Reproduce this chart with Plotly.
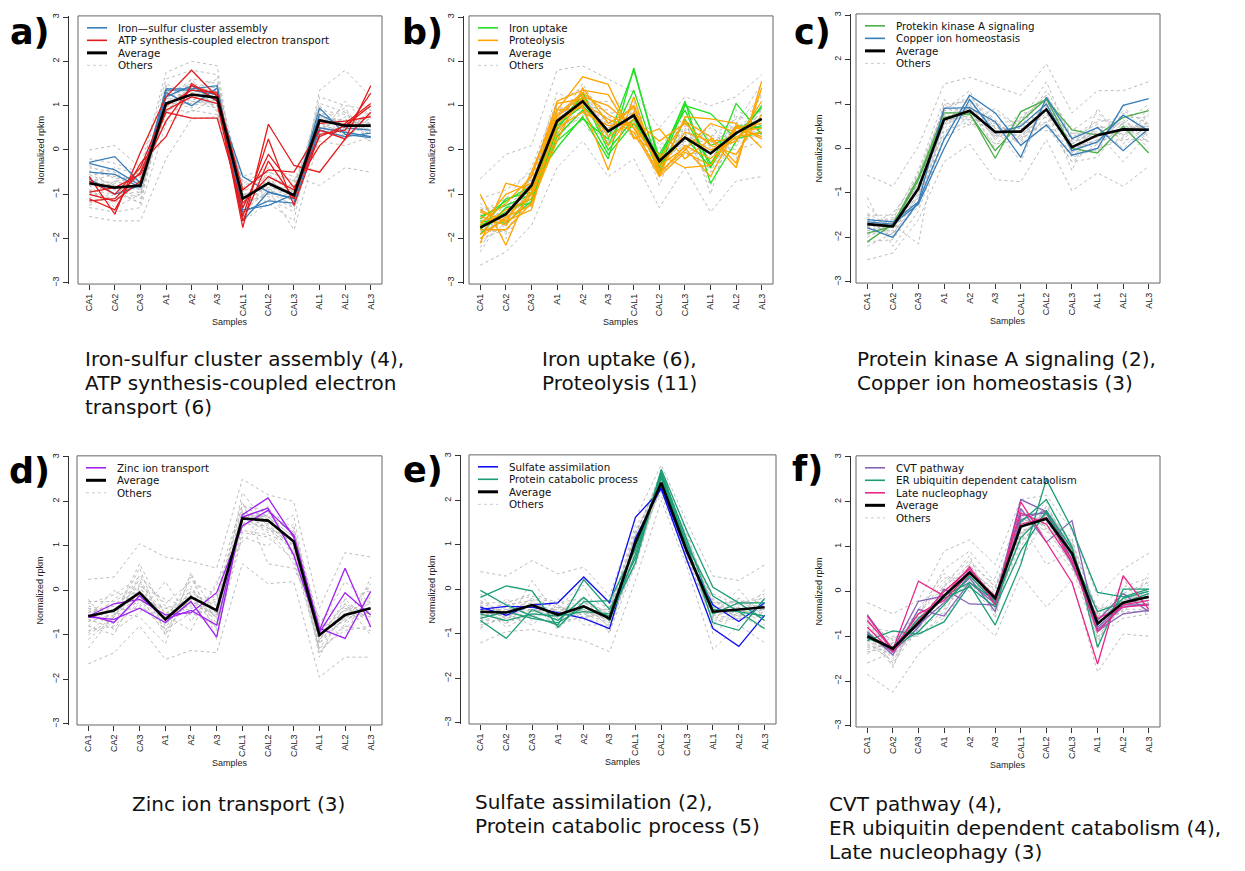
import plotly.graph_objects as go

W, H = 1245, 871

samples = ["CA1", "CA2", "CA3", "A1", "A2", "A3", "CAL1", "CAL2", "CAL3", "AL1", "AL2", "AL3"]
xpos = list(range(1, 13))

# ---------------- panel a ----------------
a_iron_sulfur = [
    [-0.28, -0.15, -0.75, 1.38, 1.38, 1.45, -1.6, -0.95, -1.1, 0.95, 0.35, 0.28],
    [-0.5, -0.55, -0.85, 1.3, 1.0, 1.4, -1.35, -1.25, -1.0, 0.8, 0.5, 0.45],
    [-0.65, -1.0, -0.8, 1.35, 1.35, 1.25, -1.4, -1.15, -1.2, 0.45, 0.3, 0.38],
    [-0.3, -0.45, -0.8, 1.2, 1.45, 1.1, -0.6, -0.95, -1.1, 0.5, 0.4, 0.3],
]
a_atp = [
    [-0.6, -1.45, -0.05, 1.2, 1.8, 1.2, -1.75, 0.58, -0.35, -0.5, 0.25, 1.45],
    [-1.1, -1.35, -0.3, 0.3, 1.5, 1.1, -1.5, 0.25, -1.25, 0.35, 0.45, 1.28],
    [-1.15, -1.1, -0.5, 0.85, 0.72, 0.72, -1.3, -0.1, -0.85, 0.1, 0.6, 1.05],
    [-0.95, -0.85, -0.55, 0.65, 1.45, 1.25, -0.9, -0.45, -0.5, 0.45, 0.25, 0.85],
    [-1.0, -1.15, -0.7, 0.9, 1.2, 1.05, -1.6, -0.25, -1.1, 0.6, 0.65, 0.75],
    [-0.7, -1.0, -0.4, 1.0, 1.35, 1.3, -1.2, -0.6, -0.9, 0.3, 0.55, 1.0],
]
a_average = [-0.75, -0.85, -0.8, 1.05, 1.25, 1.18, -1.1, -0.75, -1.02, 0.67, 0.55, 0.55]
a_others = [
    [-0.8, -0.9, -0.85, 1.1, 1.3, 1.2, -1.1, -0.8, -1.05, 0.7, 0.6, 0.55],
    [-0.5, -0.6, -0.7, 1.3, 1.5, 1.4, -1.3, -0.6, -1.2, 0.9, 0.8, 0.4],
    [-1.0, -1.1, -1.0, 0.9, 1.1, 1.0, -0.9, -0.9, -0.8, 0.5, 0.4, 0.7],
    [-0.2, -0.3, -0.5, 1.6, 1.8, 1.7, -1.5, -1.1, -1.4, 1.2, 1.0, 0.9],
    [-1.3, -1.4, -1.3, 0.6, 0.9, 0.8, -0.7, -0.5, -0.7, 0.2, 0.1, 0.3],
    [-0.6, -1.0, -0.6, 1.2, 1.0, 1.3, -1.2, -0.7, -1.1, 0.8, 0.3, 0.6],
    [-1.1, -0.7, -0.9, 1.0, 1.4, 0.9, -1.0, -1.0, -0.9, 0.4, 0.9, 0.2],
    [0.0, 0.1, -0.4, 1.75, 2.0, 1.9, -1.6, -1.2, -1.6, 1.35, 1.8, 1.2],
    [-1.5, -1.6, -1.6, -0.2, 0.7, 0.75, -0.6, -0.4, -0.6, -0.8, -0.4, -0.5],
    [-0.7, -0.8, -1.1, 1.4, 1.2, 1.1, -1.3, -0.85, -1.3, 0.6, 0.7, 0.35],
    [-0.9, -1.2, -0.7, 0.8, 1.6, 1.5, -0.8, -0.6, -0.95, 1.0, 0.5, 0.8],
    [-0.4, -0.5, -0.9, 1.5, 1.2, 1.0, -1.4, -0.9, -1.8, 0.3, 1.1, 0.5],
    [-1.2, -0.95, -1.2, 1.1, 0.95, 1.3, -1.05, -0.7, -1.0, 0.75, 0.2, 1.0],
    [-0.6, -0.4, -0.55, 0.95, 1.35, 1.6, -1.2, -1.0, -0.75, 0.55, 0.65, 0.25],
    [-0.65, -0.75, -0.7, 1.15, 1.35, 1.25, -1.2, -0.65, -1.1, 0.75, 0.65, 0.6],
    [-0.9, -1.0, -0.95, 0.95, 1.15, 1.05, -1.0, -0.85, -0.95, 0.55, 0.45, 0.45],
    [-0.55, -0.8, -0.85, 1.25, 1.2, 1.35, -1.25, -0.75, -1.15, 0.85, 0.55, 0.7],
    [-1.0, -0.7, -0.65, 0.85, 1.4, 1.1, -0.95, -0.6, -0.85, 0.45, 0.75, 0.4],
    [-0.8, -1.3, -1.0, 1.05, 1.05, 0.95, -1.35, -0.95, -1.25, 0.6, 0.35, 0.9],
    [-0.35, -0.65, -0.6, 1.3, 1.45, 1.3, -0.85, -0.55, -0.9, 1.05, 0.85, 0.3],
    [-1.25, -1.0, -0.75, 0.7, 1.25, 1.45, -1.15, -1.05, -1.3, 0.35, 0.6, 0.75],
    [-0.7, -0.55, -1.0, 1.15, 1.6, 0.85, -1.45, -0.7, -1.05, 0.9, 0.45, 0.5],
    [-0.95, -1.15, -0.5, 0.95, 0.85, 1.2, -0.75, -0.5, -0.7, 0.65, 0.95, 0.15],
    [-0.45, -0.9, -1.2, 1.45, 1.1, 1.05, -1.0, -0.9, -1.15, 0.4, 0.3, 0.65],
]

# ---------------- panel b ----------------
b_iron_uptake = [
    [-1.55, -1.15, -0.8, 0.05, 0.75, -0.2, 1.85, -0.3, 1.1, -0.75, 0.2, 1.0],
    [-1.9, -1.3, -1.2, 0.45, 1.3, 0.1, 1.35, -0.4, 1.0, 0.82, 0.25, 0.4],
    [-1.7, -1.4, -1.1, 0.3, 0.9, -0.1, 0.6, -0.1, 0.9, -0.4, 1.05, 0.35],
    [-1.6, -1.65, -1.15, 0.55, 1.0, 0.4, 0.8, -0.5, 0.7, -0.3, 0.4, 0.55],
    [-1.8, -1.1, -0.95, 0.2, 0.7, 0.25, 1.8, -0.2, 1.05, 0.1, 0.35, 0.95],
    [-1.5, -1.25, -1.0, 0.6, 1.2, 0.0, 0.7, -0.35, 0.3, -0.4, 0.55, 0.5],
]
b_proteolysis = [
    [-1.0, -2.15, -0.8, 0.9, 1.65, 1.48, 0.25, 0.48, -0.2, 0.25, -0.4, 1.55],
    [-2.1, -0.75, -0.9, 1.1, 1.35, 1.25, 0.3, -0.1, -0.4, -0.35, 0.55, 0.25],
    [-1.4, -1.6, -1.35, 0.7, 1.0, -0.45, 1.2, -0.6, 0.75, 0.7, 0.6, 0.05],
    [-1.7, -1.0, -0.75, 0.8, 1.3, 0.8, 0.5, -0.2, 0.65, 0.3, -0.3, 1.4],
    [-1.8, -1.8, -1.2, 0.2, 1.4, 0.6, 0.95, -0.5, 0.0, 0.6, 0.4, 0.5],
    [-1.5, -1.7, -1.0, 0.5, 0.85, 0.55, 0.6, -0.35, 0.05, -0.6, 0.5, 0.6],
    [-1.65, -1.2, -0.6, 1.05, 1.15, 0.3, 0.7, 0.2, 0.6, 0.1, -0.1, 0.8],
    [-2.0, -1.5, -1.25, 0.35, 1.2, 1.0, 0.5, -0.55, 0.1, -0.2, 0.3, 0.4],
    [-1.35, -1.65, -0.5, 0.9, 0.95, 0.45, 1.0, -0.45, 0.4, 0.2, 0.25, 0.7],
    [-1.75, -1.35, -1.1, 0.6, 1.05, 0.7, 0.4, -0.6, -0.05, -0.35, 0.5, 0.3],
    [-1.9, -1.55, -0.95, 0.75, 1.25, 0.1, 0.85, -0.3, 0.3, 0.0, 0.2, 1.1],
]
b_average = [-1.75, -1.45, -0.8, 0.65, 1.1, 0.42, 0.78, -0.25, 0.28, -0.08, 0.38, 0.7]
b_others = [
    [-1.75, -1.5, -0.85, 0.7, 1.1, 0.45, 0.75, -0.25, 0.3, -0.1, 0.4, 0.7],
    [-2.6, -2.3, -1.7, -0.4, 0.2, -0.6, -0.2, -1.3, -0.4, -1.4, -0.7, -0.6],
    [-0.65, -0.1, 0.1, 1.8, 1.9, 1.6, 1.3, 0.5, 1.2, 1.0, 1.2, 1.7],
    [-2.0, -1.8, -1.2, 0.3, 0.8, 0.1, 0.5, -0.6, 0.0, -0.5, 0.1, 0.4],
    [-1.4, -1.1, -0.4, 1.1, 1.4, 0.8, 1.0, 0.1, 0.6, 0.3, 0.7, 1.0],
    [-2.2, -1.3, -0.9, 0.5, 1.3, 0.3, 0.9, -0.4, 0.4, -0.8, 0.5, 0.9],
    [-1.2, -1.7, -0.6, 0.9, 0.9, 0.6, 0.6, -0.1, 0.2, 0.5, 0.2, 0.5],
    [-1.9, -1.2, -1.3, 0.4, 1.2, 0.2, 1.1, -0.5, 0.5, -0.3, 0.6, 1.2],
    [-1.5, -1.9, -0.7, 1.3, 1.0, 0.9, 0.4, -0.2, 0.1, 0.1, 0.3, 0.3],
    [-2.3, -1.4, -1.0, 0.6, 1.5, 0.5, 0.8, -0.8, 0.7, -1.0, 0.9, 0.6],
    [-1.1, -0.9, -0.5, 1.0, 0.6, 0.0, 0.7, 0.2, -0.2, 0.6, -0.2, 1.3],
    [-1.8, -1.6, -1.1, 0.2, 1.2, 0.7, 0.3, -0.35, 0.35, -0.2, 0.45, 0.8],
    [-1.6, -2.0, -0.95, 0.8, 1.05, 1.1, 1.0, -0.6, 0.9, 0.2, 0.0, 0.2],
    [-1.3, -1.5, -0.8, 0.55, 0.7, 0.35, 0.55, 0.0, 0.0, -0.6, 0.6, 1.5],
    [-1.65, -1.35, -0.7, 0.75, 1.2, 0.5, 0.85, -0.15, 0.35, 0.0, 0.45, 0.8],
    [-1.85, -1.55, -0.9, 0.55, 1.0, 0.35, 0.7, -0.35, 0.2, -0.15, 0.3, 0.6],
    [-1.55, -1.6, -0.65, 0.85, 1.15, 0.65, 0.6, -0.4, 0.45, 0.15, 0.5, 0.55],
    [-2.0, -1.3, -1.0, 0.45, 1.25, 0.2, 0.95, -0.1, 0.15, -0.35, 0.25, 0.95],
    [-1.45, -1.75, -0.55, 0.95, 0.95, 0.55, 0.65, -0.3, 0.3, 0.05, 0.6, 0.45],
    [-1.9, -1.2, -0.75, 0.6, 1.35, 0.3, 1.05, -0.45, 0.55, -0.25, 0.15, 0.75],
    [-1.7, -1.45, -1.05, 0.35, 0.85, 0.75, 0.55, 0.05, 0.1, 0.25, 0.35, 1.0],
    [-2.1, -1.65, -0.6, 0.8, 1.05, 0.15, 0.9, -0.2, 0.65, -0.5, 0.55, 0.35],
    [-1.35, -1.25, -0.85, 0.7, 1.3, 0.6, 0.5, -0.5, -0.1, -0.05, 0.75, 0.65],
    [-1.8, -1.85, -1.15, 0.5, 0.9, 0.45, 0.75, -0.25, 0.25, 0.35, 0.1, 0.9],
]

# ---------------- panel c ----------------
c_pka = [
    [-2.1, -1.7, -0.65, 0.8, 0.8, -0.22, 0.83, 1.1, 0.42, 0.3, 0.7, 0.85],
    [-1.9, -1.75, -0.7, 0.7, 0.78, -0.05, 0.6, 1.12, 0.0, -0.1, 0.5, -0.1],
]
c_copper = [
    [-1.6, -1.65, -1.2, 0.9, 0.92, 0.6, -0.2, 1.15, 0.22, 0.47, -0.05, 0.45],
    [-1.78, -2.0, -1.2, 0.2, 1.2, 0.8, 0.07, 0.53, -0.15, 0.0, 0.97, 1.12],
    [-1.65, -1.7, -1.25, 0.0, 1.1, 0.35, 0.5, 1.0, -0.05, 0.15, 0.75, 0.4],
]
c_average = [-1.7, -1.75, -0.9, 0.65, 0.85, 0.37, 0.38, 0.88, 0.03, 0.3, 0.43, 0.42]
c_others = [
    [-1.7, -1.75, -0.9, 0.65, 0.85, 0.4, 0.4, 0.9, 0.05, 0.3, 0.45, 0.45],
    [-2.5, -2.35, -1.6, -0.3, 0.1, -0.7, -0.75, 0.2, -0.95, -0.55, -0.85, -0.4],
    [-0.6, -0.85, 0.05, 1.45, 1.6, 1.4, 1.2, 1.9, 0.8, 1.3, 1.3, 1.5],
    [-1.9, -1.9, -1.2, 0.4, 0.6, 0.1, 0.2, 0.6, -0.2, 0.0, 0.2, 0.2],
    [-1.5, -1.5, -0.6, 0.9, 1.1, 0.6, 0.6, 1.2, 0.3, 0.6, 0.7, 0.7],
    [-1.8, -1.6, -1.0, 0.8, 0.7, 0.5, 0.1, 1.0, -0.1, 0.5, 0.0, 0.6],
    [-1.6, -2.0, -0.7, 0.5, 1.0, 0.2, 0.7, 0.7, 0.2, 0.1, 0.8, 0.3],
    [-2.0, -1.7, -2.15, 1.0, 0.5, 0.8, 0.5, 1.3, 0.4, 0.8, 0.3, 0.9],
    [-1.3, -1.8, -1.1, 0.7, 0.9, 0.0, 0.3, 0.5, -0.3, -0.2, 0.6, 0.0],
    [-1.75, -1.45, -0.8, 0.3, 1.2, 0.45, -0.3, 1.1, 0.1, 0.45, 0.55, 1.0],
    [-2.2, -1.9, -1.3, 0.6, 0.8, 0.3, 0.8, 0.8, 0.0, 0.2, 0.4, 0.5],
    [-1.65, -1.6, -0.5, 1.1, 0.6, 0.9, 0.45, 0.4, 0.5, -0.1, 1.0, 0.1],
    [-1.1, -2.2, -1.4, 0.2, 0.75, 0.6, 0.2, 0.9, -0.5, 0.9, 0.1, 0.65],
    [-1.85, -1.65, -0.95, 0.85, 1.3, 0.25, 0.6, 1.5, 0.15, 0.35, -0.3, 0.35],
    [-1.6, -1.65, -0.8, 0.75, 0.95, 0.45, 0.45, 0.95, 0.1, 0.4, 0.5, 0.5],
    [-1.8, -1.85, -1.0, 0.55, 0.75, 0.3, 0.3, 0.8, -0.05, 0.2, 0.35, 0.35],
    [-1.55, -1.9, -0.75, 0.85, 0.9, 0.55, 0.25, 1.05, 0.2, 0.35, 0.6, 0.3],
    [-1.95, -1.6, -1.1, 0.45, 1.0, 0.2, 0.55, 0.7, -0.15, 0.5, 0.3, 0.6],
    [-1.75, -1.7, -0.65, 0.7, 0.65, 0.6, 0.15, 0.9, 0.0, 0.15, 0.65, 0.25],
    [-1.45, -1.8, -0.95, 1.0, 1.05, 0.35, 0.65, 1.2, 0.25, 0.55, 0.2, 0.75],
    [-2.1, -2.05, -1.2, 0.25, 0.55, 0.5, 0.35, 0.6, -0.3, 0.1, 0.45, 0.5],
    [-1.7, -1.55, -0.85, 0.6, 0.85, 0.1, 0.5, 1.0, 0.1, 0.65, 0.55, 0.15],
    [-1.85, -1.75, -0.55, 0.9, 1.15, 0.65, 0.05, 0.75, 0.35, 0.25, 0.85, 0.55],
    [-1.5, -1.95, -1.05, 0.55, 0.95, 0.25, 0.7, 1.1, -0.1, 0.0, 0.25, 0.8],
]

# ---------------- panel d ----------------
d_zinc = [
    [-0.58, -0.3, -0.2, -0.55, -0.5, -0.05, 1.45, 1.8, 1.25, -0.85, -1.08, -0.02],
    [-0.6, -0.65, -0.4, -0.72, -0.25, -1.05, 1.7, 2.08, 1.2, -0.9, 0.5, -0.82],
    [-0.55, -0.72, -0.12, -0.65, -0.45, -0.78, 1.65, 1.85, 0.8, -0.95, -0.05, -0.55],
]
d_average = [-0.58, -0.45, -0.05, -0.65, -0.15, -0.45, 1.62, 1.57, 1.1, -1.0, -0.55, -0.4]
d_others = [
    [-0.6, -0.45, -0.05, -0.65, -0.15, -0.45, 1.6, 1.55, 1.1, -1.0, -0.55, -0.4],
    [-1.65, -1.4, -0.8, -1.55, -1.35, -1.4, 0.6, 0.15, 0.2, -1.95, -1.5, -1.5],
    [0.25, 0.3, 1.05, 0.75, 0.65, 0.5, 2.5, 2.15, 2.0, -0.4, 0.85, 0.75],
    [-0.9, -0.8, -0.3, -0.9, -0.5, -0.8, 1.3, 1.2, 0.7, -1.3, -0.9, -0.8],
    [-0.3, -0.1, 0.3, -0.3, 0.2, -0.1, 1.9, 1.8, 1.4, -0.7, -0.2, 0.0],
    [-0.7, -0.2, 0.2, -0.8, 0.0, -0.6, 1.7, 1.4, 0.9, -1.1, -0.4, -0.7],
    [-0.4, -0.7, -0.2, -0.4, -0.3, -0.2, 1.5, 1.7, 1.3, -0.9, -0.7, -0.2],
    [-1.1, -0.6, 0.5, -1.0, 0.3, -0.9, 1.2, 1.0, 1.5, -1.5, -0.3, -1.0],
    [-0.2, -0.9, -0.5, 0.2, -0.7, 0.1, 2.0, 0.6, 0.5, -0.6, -1.1, 0.3],
    [-0.5, -0.3, 0.0, -0.6, -0.1, -0.5, 1.75, 1.65, 1.2, -1.2, -0.6, -0.5],
    [-0.8, -1.0, 0.1, -0.2, -0.4, -0.3, 1.4, 1.9, 0.8, -0.8, 0.2, -0.3],
    [-0.35, -0.5, -0.6, -1.2, 0.4, -1.1, 1.65, 1.3, 1.7, -1.4, -0.8, -0.9],
    [-1.3, -0.55, 0.6, -0.55, -0.9, 0.2, 1.1, 1.6, 1.0, -1.05, -0.5, 0.1],
    [-0.6, 0.0, -0.35, -0.75, -0.2, -0.6, 2.2, 1.45, 0.6, -0.85, -0.35, -0.6],
    [-0.5, -0.35, 0.05, -0.55, -0.05, -0.35, 1.7, 1.65, 1.2, -0.9, -0.45, -0.3],
    [-0.7, -0.55, -0.15, -0.75, -0.25, -0.55, 1.5, 1.45, 1.0, -1.1, -0.65, -0.5],
    [-0.45, -0.6, 0.15, -0.5, -0.35, -0.25, 1.8, 1.5, 0.95, -1.2, -0.4, -0.6],
    [-0.8, -0.3, -0.2, -0.85, 0.05, -0.65, 1.45, 1.75, 1.3, -0.8, -0.7, -0.25],
    [-0.55, -0.75, 0.35, -0.35, -0.45, -0.5, 1.65, 1.35, 1.25, -1.05, -0.3, -0.55],
    [-0.95, -0.45, -0.4, -0.6, 0.1, -0.75, 1.55, 1.85, 0.85, -1.3, -0.55, -0.15],
    [-0.25, -0.25, 0.1, -0.9, -0.2, -0.15, 1.9, 1.6, 1.35, -0.75, -0.85, -0.45],
    [-0.65, -0.85, -0.25, -0.4, -0.55, -0.4, 1.35, 1.25, 1.05, -1.15, -0.2, -0.7],
    [-1.0, -0.6, 0.25, -0.7, 0.35, -0.55, 1.6, 1.7, 0.75, -0.95, -0.6, 0.15],
    [-0.4, -0.5, -0.1, -1.0, -0.1, -0.85, 1.75, 1.4, 1.15, -1.4, -0.75, -0.35],
]

# ---------------- panel e ----------------
e_sulfate = [
    [-0.4, -0.58, -0.35, -0.3, 0.28, -0.3, 1.62, 2.25, 0.65, -0.88, -1.28, -0.58],
    [-0.45, -0.38, -0.4, -0.52, -0.65, -0.88, 1.15, 2.3, 0.8, -0.35, -0.72, -0.3],
]
e_catabolic = [
    [-0.02, -0.35, -0.6, -0.8, 0.22, -0.45, 0.7, 2.7, 1.3, 0.05, -0.3, -0.3],
    [-0.7, -1.1, -0.45, -0.7, -0.18, -0.7, 0.8, 2.6, 1.0, -0.15, -0.5, -0.88],
    [-0.18, 0.08, -0.03, -0.85, -0.28, -0.25, 0.9, 2.55, 0.9, -0.55, -0.3, -0.7],
    [-0.55, -0.7, -0.55, -0.6, -0.5, -0.55, 1.0, 2.5, 1.0, -0.75, -0.92, -0.2],
    [-0.65, -0.5, -0.65, -0.75, -0.4, -0.6, 0.6, 2.65, 1.1, -0.45, -0.5, -0.6],
]
e_average = [-0.5, -0.52, -0.35, -0.57, -0.38, -0.65, 1.05, 2.4, 0.85, -0.5, -0.45, -0.4]
e_others = [
    [-0.5, -0.5, -0.35, -0.55, -0.4, -0.65, 1.0, 2.4, 0.85, -0.5, -0.45, -0.4],
    [-1.2, -0.95, -0.9, -1.05, -1.15, -1.4, 0.2, 2.0, 0.5, -1.35, -0.8, -1.2],
    [0.4, 0.3, 0.65, 0.35, 0.5, -0.15, 1.6, 2.8, 1.5, 0.3, 0.2, 0.55],
    [-0.7, -0.7, -0.6, -0.8, -0.6, -0.9, 0.8, 2.3, 0.7, -0.7, -0.6, -0.6],
    [-0.3, -0.3, -0.1, -0.3, -0.2, -0.4, 1.2, 2.6, 1.0, -0.3, -0.3, -0.2],
    [-0.6, -0.4, -0.5, -0.4, -0.5, -0.7, 0.9, 2.5, 0.9, -0.6, -0.2, -0.5],
    [-0.4, -0.6, -0.2, -0.7, -0.3, -0.5, 1.1, 2.2, 0.8, -0.4, -0.6, -0.3],
    [-0.9, -0.2, -0.7, -0.2, -0.8, -0.8, 0.6, 2.45, 1.2, -0.8, -0.4, -0.8],
    [-0.1, -0.8, 0.2, -0.6, 0.1, -1.0, 1.3, 2.35, 0.6, -0.2, -0.7, 0.0],
    [-0.55, -0.45, -0.45, -0.5, -0.45, -0.6, 0.7, 2.55, 1.1, -1.0, -0.5, -0.35],
    [-0.8, -0.65, -0.3, -0.9, -0.25, -0.55, 1.45, 2.1, 0.75, -0.55, 0.0, -0.65],
    [-0.25, -0.55, -0.8, -0.35, -0.7, -0.3, 0.5, 2.7, 0.95, -0.1, -0.35, -0.1],
    [-0.65, -0.35, -0.25, -0.65, -0.55, -0.75, 1.1, 2.25, 1.3, -0.65, -0.55, -0.9],
    [-0.35, -0.85, -0.55, -0.45, 0.2, -0.45, 0.95, 2.5, 0.7, -0.35, -0.25, -0.45],
    [-0.45, -0.45, -0.3, -0.5, -0.3, -0.6, 1.1, 2.45, 0.9, -0.45, -0.4, -0.35],
    [-0.55, -0.6, -0.45, -0.65, -0.45, -0.7, 0.95, 2.35, 0.8, -0.55, -0.5, -0.45],
    [-0.35, -0.65, -0.5, -0.45, -0.55, -0.5, 1.15, 2.5, 0.75, -0.35, -0.55, -0.55],
    [-0.7, -0.35, -0.25, -0.7, -0.25, -0.8, 0.85, 2.3, 1.0, -0.65, -0.35, -0.25],
    [-0.6, -0.55, -0.2, -0.4, -0.5, -0.45, 1.25, 2.55, 0.95, -0.4, -0.6, -0.45],
    [-0.4, -0.75, -0.55, -0.6, -0.35, -0.85, 0.75, 2.35, 0.65, -0.6, -0.45, -0.6],
    [-0.75, -0.45, -0.4, -0.75, -0.6, -0.55, 1.05, 2.6, 1.05, -0.3, -0.3, -0.3],
    [-0.3, -0.55, -0.6, -0.5, -0.2, -0.7, 1.35, 2.2, 0.9, -0.75, -0.65, -0.5],
    [-0.85, -0.6, -0.35, -0.85, -0.45, -0.95, 0.55, 2.4, 0.6, -0.5, -0.2, -0.7],
    [-0.5, -0.3, -0.15, -0.35, -0.65, -0.4, 1.2, 2.65, 1.15, -0.25, -0.5, -0.15],
]

# ---------------- panel f ----------------
f_cvt = [
    [-0.52, -1.3, -0.22, -0.1, 0.45, -0.2, 2.05, 1.78, 0.7, -0.85, -0.35, -0.28],
    [-0.9, -1.42, -0.4, -0.55, 0.2, -0.28, 1.85, 1.1, 1.58, -0.88, -0.5, -0.42],
    [-0.95, -1.35, -0.8, 0.05, -0.28, -0.3, 1.6, 1.8, 0.85, -0.8, -0.3, -0.3],
    [-1.0, -1.25, -0.75, -0.25, 0.3, -0.45, 1.7, 1.75, 0.6, -0.65, -0.05, -0.45],
]
f_er = [
    [-1.1, -0.88, -0.95, -0.68, 0.15, -0.75, 0.6, 2.5, 1.4, -0.02, -0.12, 0.05],
    [-0.95, -1.3, -0.68, -0.1, 0.2, -0.2, 1.55, 2.05, 1.0, -1.25, 0.05, 0.05],
    [-1.05, -1.25, -0.9, -0.3, 0.35, -0.25, 1.2, 1.75, 0.8, -0.45, -0.25, -0.05],
    [-0.95, -1.32, -0.6, -0.15, 0.1, -0.35, 0.9, 1.8, 0.95, -0.75, -0.15, 0.0],
]
f_late = [
    [-0.65, -1.3, 0.23, -0.1, 0.55, -0.3, 2.0, 1.1, 0.2, -1.62, 0.35, -0.4],
    [-0.55, -1.3, -0.5, -0.2, 0.4, -0.1, 1.5, 1.65, 0.7, -0.9, -0.3, -0.2],
    [-0.8, -1.35, -0.65, 0.0, 0.5, -0.15, 1.75, 1.5, 0.65, -0.6, -0.35, -0.3],
]
f_average = [-1.0, -1.28, -0.7, -0.1, 0.42, -0.15, 1.45, 1.62, 0.85, -0.72, -0.25, -0.12]
f_others = [
    [-1.0, -1.28, -0.7, -0.1, 0.4, -0.15, 1.45, 1.6, 0.85, -0.7, -0.25, -0.1],
    [-1.85, -2.25, -1.4, -0.9, -0.45, -1.0, 0.35, -0.35, 0.25, -1.8, -0.95, -1.0],
    [-0.25, -0.5, -0.2, 0.9, 1.15, 0.6, 2.05, 2.15, 1.35, -0.1, 0.5, 0.85],
    [-1.2, -1.4, -0.9, -0.3, 0.2, -0.4, 1.2, 1.4, 0.6, -0.9, -0.4, -0.4],
    [-0.7, -1.1, -0.5, 0.2, 0.7, 0.1, 1.7, 1.8, 1.1, -0.5, -0.05, 0.2],
    [-1.1, -1.2, -0.6, -0.2, 0.3, -0.3, 1.3, 1.7, 0.9, -0.8, -0.3, -0.2],
    [-0.9, -1.5, -0.8, 0.0, 0.5, 0.0, 1.6, 1.5, 0.8, -0.6, -0.2, 0.0],
    [-1.4, -1.0, -1.0, -0.5, 0.6, -0.2, 1.0, 1.9, 1.0, -1.0, -0.6, -0.5],
    [-0.6, -1.7, -0.4, 0.4, 0.0, 0.3, 1.8, 1.2, 0.5, -0.4, 0.1, 0.3],
    [-1.05, -1.3, -0.75, -0.05, 0.45, -0.2, 1.5, 0.6, 0.9, -0.75, -0.3, -0.15],
    [-1.3, -1.15, -0.55, 0.5, 0.9, 0.2, 0.7, 1.65, 1.2, -1.2, 0.3, -0.6],
    [-0.8, -0.9, -0.95, -0.6, 0.15, -0.5, 1.4, 2.0, 0.7, -0.55, -0.5, 0.4],
    [-1.6, -1.35, -0.65, -0.4, 0.25, -0.1, 1.1, 1.75, 0.95, -1.05, -0.15, -0.3],
    [-0.95, -1.6, -0.85, 0.1, 0.8, -0.6, 1.65, 1.35, 0.65, -0.35, -0.35, 0.1],
    [-0.95, -1.2, -0.6, 0.0, 0.5, -0.1, 1.55, 1.7, 0.95, -0.65, -0.2, -0.05],
    [-1.1, -1.35, -0.8, -0.2, 0.35, -0.25, 1.35, 1.55, 0.75, -0.8, -0.35, -0.2],
    [-0.85, -1.45, -0.75, 0.15, 0.45, 0.05, 1.7, 1.45, 0.7, -0.55, -0.15, -0.3],
    [-1.25, -1.15, -0.55, -0.35, 0.55, -0.35, 1.25, 1.8, 1.05, -0.9, -0.4, 0.05],
    [-0.75, -1.3, -0.95, 0.05, 0.25, -0.2, 1.6, 1.65, 0.6, -0.7, -0.05, -0.25],
    [-1.15, -1.55, -0.65, -0.15, 0.65, 0.1, 1.4, 1.9, 0.9, -0.95, -0.3, 0.15],
    [-0.65, -1.1, -0.45, 0.3, 0.3, -0.45, 1.85, 1.4, 1.15, -0.5, -0.45, -0.45],
    [-1.35, -1.25, -0.85, -0.45, 0.4, -0.05, 1.15, 1.55, 0.8, -0.85, 0.05, -0.05],
    [-1.05, -1.65, -0.5, 0.1, 0.6, -0.3, 1.5, 1.75, 1.0, -0.4, -0.3, 0.25],
    [-0.9, -1.05, -0.75, -0.25, 0.2, -0.15, 1.3, 1.6, 0.55, -1.1, -0.2, -0.35],
]

GREY = "#bcbcbc"
panels = [
    dict(letter="a)", box=(78, 13, 382, 283), yoff=10, letter_pos=(52, 29),
         groups=[("Iron\u2014sulfur cluster assembly", "#377EB8", a_iron_sulfur),
                 ("ATP synthesis-coupled electron transport", "#E41A1C", a_atp)],
         average=a_average, others=a_others,
         caption=[("Iron-sulfur cluster assembly (4),", 358), ("ATP synthesis-coupled electron", 383),
                  ("transport (6)", 407)], cap_x=83),
    dict(letter="b)", box=(469, 13, 773, 283), yoff=6, letter_pos=(445, 29),
         groups=[("Iron uptake", "#22E022", b_iron_uptake), ("Proteolysis", "#FFA500", b_proteolysis)],
         average=b_average, others=b_others,
         caption=[("Iron uptake (6),", 358), ("Proteolysis (11)", 383)], cap_x=540),
    dict(letter="c)", box=(856, 11, 1160, 282), yoff=6, letter_pos=(833, 29),
         groups=[("Protekin kinase A signaling", "#4DAF4A", c_pka), ("Copper ion homeostasis", "#377EB8", c_copper)],
         average=c_average, others=c_others,
         caption=[("Protein kinase A signaling (2),", 358), ("Copper ion homeostasis (3)", 383)], cap_x=855),
    dict(letter="d)", box=(77, 456, 382, 727), yoff=9, letter_pos=(52, 471),
         groups=[("Zinc ion transport", "#A020F0", d_zinc)],
         average=d_average, others=d_others,
         caption=[("Zinc ion transport (3)", 807)], cap_x=130),
    dict(letter="e)", box=(469, 455, 776, 726), yoff=9, letter_pos=(445, 470),
         groups=[("Sulfate assimilation", "#1010F0", e_sulfate), ("Protein catabolic process", "#1B9E77", e_catabolic)],
         average=e_average, others=e_others,
         caption=[("Sulfate assimilation (2),", 805), ("Protein catabolic process (5)", 829)], cap_x=473),
    dict(letter="f)", box=(856, 456, 1160, 729), yoff=6, letter_pos=(825, 469),
         groups=[("CVT pathway", "#8462B8", f_cvt), ("ER ubiquitin dependent catabolism", "#1B9E77", f_er),
                 ("Late nucleophagy", "#E7298A", f_late)],
         average=f_average, others=f_others,
         caption=[("CVT pathway (4),", 807), ("ER ubiquitin dependent catabolism (4),", 831),
                  ("Late nucleophagy (3)", 855)], cap_x=827),
]


def fx(px):
    return px / W


def fy(py):
    return 1 - py / H


fig = go.Figure()
shapes = []
annotations = []
TICKFONT = dict(family="Liberation Sans, Arial", size=9, color="#222222")
LEGFONT = dict(family="DejaVu Sans", size=10.3, color="#111111")

for i, p in enumerate(panels, start=1):
    l, t, r, b = p["box"]
    xa = "x" if i == 1 else f"x{i}"
    ya = "y" if i == 1 else f"y{i}"
    xkey = "xaxis" if i == 1 else f"xaxis{i}"
    ykey = "yaxis" if i == 1 else f"yaxis{i}"
    fig.update_layout({
        xkey: dict(domain=[fx(l), fx(r)], range=[0.56, 12.44], anchor=ya, showgrid=False, zeroline=False,
                   showline=False, ticks="outside", ticklen=5, tickcolor="#333333",
                   tickvals=xpos, ticktext=samples, tickangle=-90, tickfont=TICKFONT),
        ykey: dict(domain=[fy(b), fy(t)], range=[-3.025, 3.025], anchor="free", position=fx(l - p["yoff"]),
                   showgrid=False, zeroline=False, showline=True, linecolor="#333333", linewidth=1,
                   ticks="outside", ticklen=5, tickcolor="#333333", tickmode="array",
                   tickvals=[-3, -2, -1, 0, 1, 2, 3], tickangle=-90, tickfont=TICKFONT),
    })
    for row in p["others"]:
        fig.add_trace(go.Scatter(x=xpos, y=row, mode="lines", xaxis=xa, yaxis=ya, showlegend=False,
                                 hoverinfo="skip", line=dict(color=GREY, width=1, dash="dot")))
    for name, color, rows in p["groups"]:
        for row in rows:
            fig.add_trace(go.Scatter(x=xpos, y=row, mode="lines", xaxis=xa, yaxis=ya, showlegend=False,
                                     hoverinfo="skip", line=dict(color=color, width=1.3)))
    fig.add_trace(go.Scatter(x=xpos, y=p["average"], mode="lines", xaxis=xa, yaxis=ya, showlegend=False,
                             hoverinfo="skip", line=dict(color="black", width=2.6)))
    shapes.append(dict(type="rect", xref=f"{xa} domain", yref=f"{ya} domain", x0=0, x1=1, y0=0, y1=1,
                       line=dict(color="#666666", width=1), layer="above"))
    entries = [(n, c, 1.6, "solid") for n, c, _ in p["groups"]]
    entries += [("Average", "black", 3, "solid"), ("Others", "#cccccc", 1, "dot")]
    for k, (n, c, w, dsh) in enumerate(entries):
        yy = t + 12 + 12.6 * k
        shapes.append(dict(type="line", xref="paper", yref="paper", x0=fx(l + 9), x1=fx(l + 29),
                           y0=fy(yy), y1=fy(yy), line=dict(color=c, width=w, dash=dsh)))
        annotations.append(dict(text=n, x=fx(l + 38), y=fy(yy), xref="paper", yref="paper",
                                xanchor="left", yanchor="middle", showarrow=False, font=LEGFONT))
    annotations.append(dict(text="Samples", x=fx((l + r) / 2), y=fy(b + 38), xref="paper", yref="paper",
                            xanchor="center", yanchor="middle", showarrow=False, font=TICKFONT))
    annotations.append(dict(text="Normalized rpkm", x=fx(l - 37), y=fy((t + b) / 2), xref="paper",
                            yref="paper", xanchor="center", yanchor="middle", textangle=-90,
                            showarrow=False, font=TICKFONT))
    lx, ly = p["letter_pos"]
    annotations.append(dict(text=p["letter"], x=fx(lx), y=fy(ly), xref="paper", yref="paper",
                            xanchor="right", yanchor="middle", showarrow=False,
                            font=dict(family="DejaVu Sans", size=35, color="black", weight="bold")))
    for txt, cy in p["caption"]:
        annotations.append(dict(text=txt, x=fx(p["cap_x"]), y=fy(cy), xref="paper", yref="paper",
                                xanchor="left", yanchor="middle", showarrow=False,
                                font=dict(family="DejaVu Sans", size=20, color="#111111")))

fig.update_layout(width=W, height=H, margin=dict(l=0, r=0, t=0, b=0), paper_bgcolor="white",
                  plot_bgcolor="white", showlegend=False, shapes=shapes, annotations=annotations)
fig.write_html("out.html", config={"displayModeBar": False},
               post_script="document.body.style.margin='0';document.body.style.overflow='hidden';")
